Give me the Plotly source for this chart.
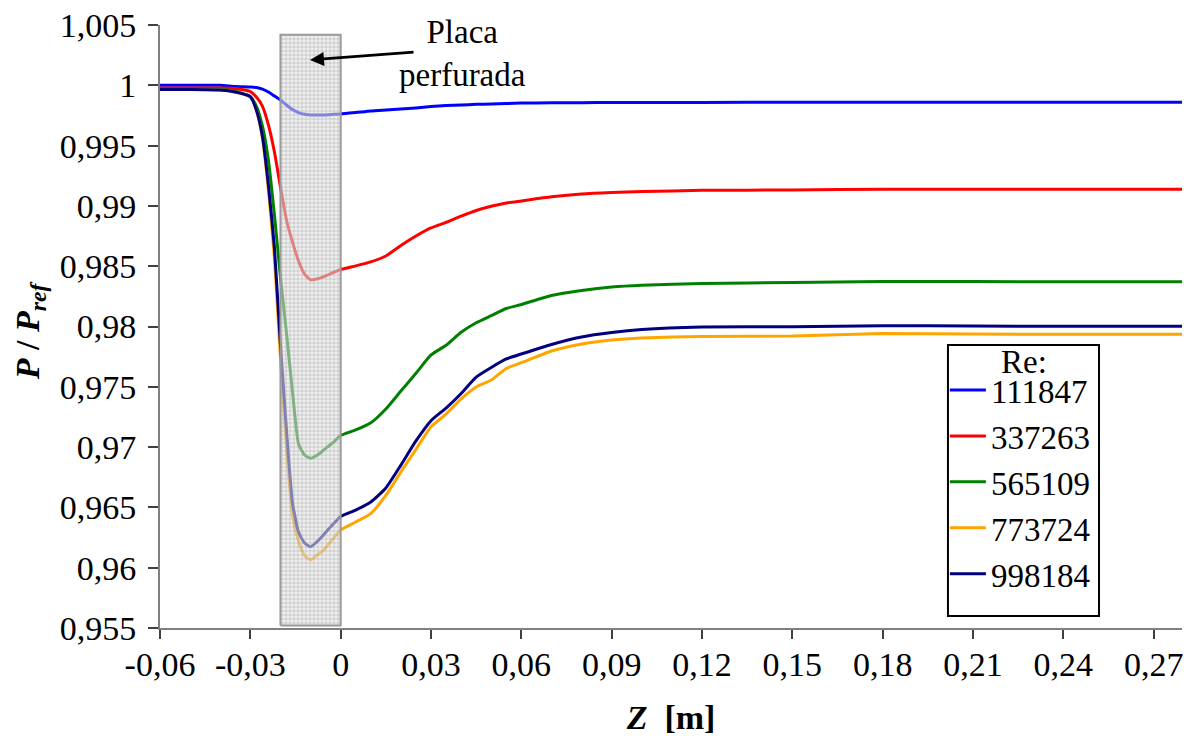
import plotly.graph_objects as go

# ---- data ----
z = [-0.06, -0.05, -0.04, -0.035, -0.03, -0.028, -0.026, -0.024, -0.022, -0.020,
     -0.018, -0.016, -0.014, -0.012, -0.010, -0.008, -0.006, -0.004, -0.002, 0.0,
     0.005, 0.01, 0.015, 0.02, 0.025, 0.03, 0.035, 0.04, 0.045, 0.05,
     0.055, 0.06, 0.07, 0.08, 0.09, 0.10, 0.12, 0.15, 0.18, 0.21, 0.24, 0.28]

re_111847 = [1.0000, 1.0000, 1.0000, 0.99990, 0.99986, 0.99982, 0.99969, 0.99944, 0.99911, 0.99878,
             0.99837, 0.99799, 0.99774, 0.99760, 0.99754, 0.99754, 0.99754, 0.99756, 0.99760, 0.99762,
             0.99774, 0.99787, 0.99795, 0.99803, 0.99812, 0.99824, 0.99832, 0.99837, 0.99842, 0.99845,
             0.99849, 0.99853, 0.99855, 0.99856, 0.99857, 0.99858, 0.99858, 0.99859, 0.99859, 0.99859, 0.99859, 0.99859]

re_337263 = [0.99978, 0.99978, 0.99977, 0.99973, 0.99947, 0.99903, 0.99828, 0.99671, 0.99447, 0.99157,
             0.98883, 0.98701, 0.98543, 0.98435, 0.98387, 0.98394, 0.98410, 0.98431, 0.98452, 0.98473,
             0.98503, 0.98536, 0.98585, 0.98672, 0.98750, 0.98817, 0.98863, 0.98915, 0.98962, 0.98997,
             0.99024, 0.99041, 0.99075, 0.99099, 0.99111, 0.99119, 0.99129, 0.99132, 0.99138, 0.99138, 0.99138, 0.99138]

re_565109 = [0.99969, 0.99969, 0.99965, 0.99953, 0.99905, 0.99828, 0.99663, 0.99381, 0.98925, 0.98410,
             0.97946, 0.97457, 0.97026, 0.96934, 0.96907, 0.96930, 0.96968, 0.97009, 0.97050, 0.97096,
             0.97142, 0.97201, 0.97316, 0.97465, 0.97612, 0.97764, 0.97844, 0.97952, 0.98031, 0.98090,
             0.98149, 0.98182, 0.98257, 0.98298, 0.98327, 0.98342, 0.98357, 0.98365, 0.98373, 0.98373, 0.98371, 0.98371]

re_773724 = [0.99965, 0.99965, 0.99961, 0.99944, 0.99903, 0.99795, 0.99563, 0.99132, 0.98568, 0.97739,
             0.96993, 0.96430, 0.96221, 0.96101, 0.96064, 0.96101, 0.96138, 0.96196, 0.96254, 0.96313,
             0.96379, 0.96449, 0.96599, 0.96794, 0.96981, 0.97168, 0.97274, 0.97399, 0.97498, 0.97556,
             0.97652, 0.97700, 0.97797, 0.97855, 0.97888, 0.97905, 0.97917, 0.97921, 0.97942, 0.97938, 0.97935, 0.97935]

re_998184 = [0.99965, 0.99965, 0.99961, 0.99944, 0.99906, 0.99795, 0.99580, 0.99173, 0.98651, 0.97847,
             0.97142, 0.96537, 0.96296, 0.96205, 0.96174, 0.96213, 0.96263, 0.96321, 0.96375, 0.96425,
             0.96478, 0.96545, 0.96661, 0.96851, 0.97051, 0.97219, 0.97324, 0.97445, 0.97581, 0.97660,
             0.97731, 0.97772, 0.97851, 0.97913, 0.97950, 0.97975, 0.97996, 0.97998, 0.98006, 0.98004, 0.98002, 0.98002]

series_names = ["111847", "337263", "565109", "773724", "998184"]
series_values = [re_111847, re_337263, re_565109, re_773724, re_998184]
series_colors = ["#0000FF", "#FF0000", "#008000", "#FFA500", "#000080"]

x_tick_vals = [-0.06, -0.03, 0, 0.03, 0.06, 0.09, 0.12, 0.15, 0.18, 0.21, 0.24, 0.27]
x_tick_text = ["-0,06", "-0,03", "0", "0,03", "0,06", "0,09", "0,12", "0,15", "0,18", "0,21", "0,24", "0,27"]
y_tick_vals = [0.955, 0.96, 0.965, 0.97, 0.975, 0.98, 0.985, 0.99, 0.995, 1.0, 1.005]
y_tick_text = ["0,955", "0,96", "0,965", "0,97", "0,975", "0,98", "0,985", "0,99", "0,995", "1", "1,005"]

plate_z = [-0.02, 0.0]
plate_p = [0.9552, 1.0042]

FONT = "Times New Roman, Liberation Serif, serif"
FS = 34

fig = go.Figure()
for name, vals, col in zip(series_names, series_values, series_colors):
    fig.add_trace(go.Scatter(
        x=z, y=vals, mode="lines", name=name,
        line=dict(color=col, width=3, shape="spline", smoothing=0.5),
    ))

# perforated plate (semi-transparent hatched rectangle over the curves)
fig.add_trace(go.Scatter(
    x=[plate_z[0], plate_z[1], plate_z[1], plate_z[0], plate_z[0]],
    y=[plate_p[0], plate_p[0], plate_p[1], plate_p[1], plate_p[0]],
    mode="lines", fill="toself", showlegend=False, hoverinfo="skip",
    line=dict(color="#9a9a9a", width=2),
    fillcolor="rgba(215,215,215,0.6)",
    fillpattern=dict(shape="+", size=4, solidity=0.25, fgcolor="#999999",
                     bgcolor="rgba(225,225,225,0.55)", fgopacity=0.75),
))

fig.add_annotation(x=-0.0102, y=1.0021, ax=0.0247, ay=1.00276, axref="x", ayref="y",
                   xref="x", yref="y", text="", showarrow=True,
                   arrowhead=2, arrowsize=1, arrowwidth=2.8, arrowcolor="black")
fig.add_annotation(x=0.0406, y=1.00262, xref="x", yref="y", text="Placa<br>perfurada",
                   showarrow=False, font=dict(family=FONT, size=FS - 1, color="black"),
                   align="center", xanchor="center", yanchor="middle")

# y-axis title
fig.add_annotation(x=-0.127, y=0.4925, xref="paper", yref="paper",
                   text="<b><i>P</i> / <i>P</i><sub><i>ref</i></sub></b>", textangle=-90,
                   xanchor="center", yanchor="middle", showarrow=False,
                   font=dict(family=FONT, size=FS, color="black"))

# legend frame and title
fig.add_shape(type="rect", xref="paper", yref="paper",
              x0=0.7710, x1=0.9188, y0=0.0199, y1=0.4693,
              line=dict(color="black", width=2), fillcolor="white", layer="above")
fig.add_annotation(x=0.845, y=0.441, xref="paper", yref="paper", text="Re:",
                   xanchor="center", yanchor="middle",
                   showarrow=False, font=dict(family=FONT, size=FS - 1, color="black"))

fig.update_layout(
    width=1184, height=736,
    margin=dict(l=160, r=2, t=25, b=108),
    paper_bgcolor="white", plot_bgcolor="white",
    font=dict(family=FONT, size=FS, color="black"),
    showlegend=True,
    legend=dict(
        x=0.768, y=0.441, xanchor="left", yanchor="top",
        borderwidth=0, bgcolor="rgba(0,0,0,0)",
        font=dict(family=FONT, size=FS - 1), tracegroupgap=0, itemwidth=36,
    ),
    xaxis=dict(
        range=[-0.06, 0.2794], tickvals=x_tick_vals, ticktext=x_tick_text,
        showgrid=False, zeroline=False, showline=True, linecolor="#808080", linewidth=2,
        ticks="outside", ticklen=9, tickwidth=1.5, tickcolor="#404040",
        tickfont=dict(family=FONT, size=FS), automargin=False, ticklabelstandoff=-4,
        ticklabeloverflow="allow",
        title=dict(text="<b><i>Z</i>  [m]</b>", font=dict(family=FONT, size=FS), standoff=26),
    ),
    yaxis=dict(
        range=[0.955, 1.005], tickvals=y_tick_vals, ticktext=y_tick_text,
        showgrid=False, zeroline=False, showline=True, linecolor="#808080", linewidth=2,
        ticks="outside", ticklen=10, tickwidth=1.5, tickcolor="#404040",
        tickfont=dict(family=FONT, size=FS), automargin=False, ticklabelstandoff=5,
        ticklabeloverflow="allow",
    ),
)

fig.write_html("out.html", config={"displayModeBar": False},
               post_script="document.body.style.margin='0';document.body.style.overflow='hidden';")
